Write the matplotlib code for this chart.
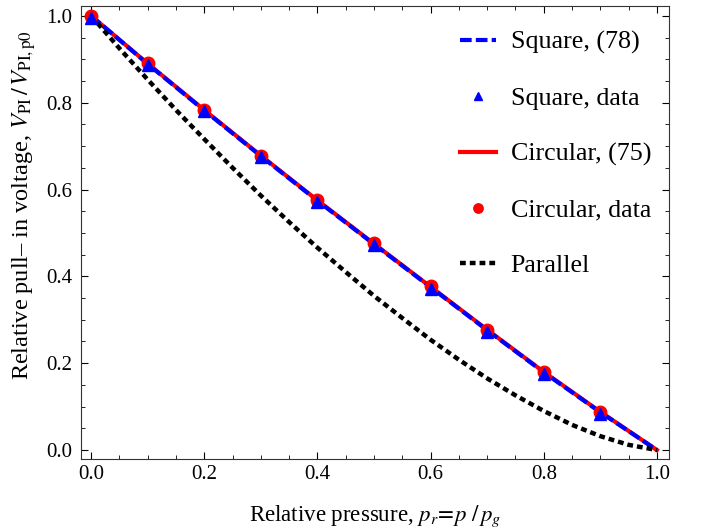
import matplotlib
matplotlib.use("Agg")
import matplotlib.pyplot as plt
from matplotlib.ticker import MultipleLocator, FormatStrFormatter

plt.rcParams['font.family'] = ['Liberation Serif', 'DejaVu Serif']
plt.rcParams['mathtext.fontset'] = 'stix'

# relative pressure for the model curves
p_curve = [0.0, 0.1, 0.2, 0.3, 0.4, 0.5, 0.6, 0.7, 0.8, 0.9, 1.0]
circular_model = [1.0, 0.890, 0.783, 0.678, 0.575, 0.475, 0.376, 0.277, 0.180, 0.088, 0.0]
square_model = [1.0, 0.889, 0.782, 0.677, 0.574, 0.474, 0.375, 0.276, 0.179, 0.087, 0.0]

# parallel plate curve, read every 0.05
p_par = [0.0, 0.05, 0.1, 0.15, 0.2, 0.25, 0.3, 0.35, 0.4, 0.45, 0.5,
         0.55, 0.6, 0.65, 0.7, 0.75, 0.8, 0.85, 0.9, 0.95, 1.0]
parallel = [1.0, 0.925, 0.853, 0.783, 0.716, 0.650, 0.586, 0.525, 0.466, 0.410, 0.355,
            0.304, 0.254, 0.208, 0.165, 0.126, 0.090, 0.058, 0.032, 0.012, 0.0]

# measured points
p_data = [0.0, 0.1, 0.2, 0.3, 0.4, 0.5, 0.6, 0.7, 0.8, 0.9]
circular_data = [1.0, 0.891, 0.784, 0.678, 0.575, 0.476, 0.377, 0.277, 0.180, 0.088]
square_data = [0.996, 0.886, 0.780, 0.675, 0.572, 0.472, 0.372, 0.273, 0.176, 0.084]

fig = plt.figure(figsize=(7.04, 5.29), dpi=100)
ax = fig.add_axes([0.115, 0.132, 0.835, 0.857])

ax.plot(p_curve, circular_model, color='#ff0000', lw=3, label='Circular, (75)', zorder=2)
ax.plot(p_curve, square_model, color='#0000ff', lw=3, dashes=(2.8, 1.0),
        label='Square, (78)', zorder=3)
ax.plot(p_par, parallel, color='black', lw=3.2, dashes=(1.3, 0.9), dash_capstyle='butt',
        label='Parallel', zorder=3)
ax.plot(p_data, circular_data, 'o', color='#ff0000', ms=9, label='Circular, data', zorder=4)
ax.plot(p_data, square_data, '^', color='#0000ff', ms=8.5, label='Square, data', zorder=5)

ax.set_xlim(-0.018, 1.021)
ax.set_ylim(-0.021, 1.023)
ax.xaxis.set_major_locator(MultipleLocator(0.2))
ax.xaxis.set_minor_locator(MultipleLocator(0.05))
ax.yaxis.set_major_locator(MultipleLocator(0.2))
ax.yaxis.set_minor_locator(MultipleLocator(0.05))
ax.xaxis.set_major_formatter(FormatStrFormatter('%.1f'))
ax.yaxis.set_major_formatter(FormatStrFormatter('%.1f'))
ax.tick_params(which='both', direction='in', top=True, right=True, labelsize=15)
ax.tick_params(axis='x', pad=4)
ax.tick_params(axis='y', pad=6)
ax.tick_params(which='major', length=5, width=0.8)
ax.tick_params(which='minor', length=3, width=0.6)
for s in ax.spines.values():
    s.set_color('0.2')

ax.set_xlabel(r'Relative pressure, $p_r\!=\!p\ /\,p_g$', fontsize=16.5)
ax.set_ylabel(r'Relative pull– in voltage, $V_{\mathrm{PI}}\,/\,V_{\mathrm{PI,p0}}$',
              fontsize=17.5)
ax.xaxis.set_label_coords(0.5, -0.097)
ax.yaxis.set_label_coords(-0.073, 0.561)

handles, labels = ax.get_legend_handles_labels()
order = ['Square, (78)', 'Square, data', 'Circular, (75)', 'Circular, data', 'Parallel']
hmap = dict(zip(labels, handles))
ax.legend([hmap[k] for k in order], order, loc='upper left', bbox_to_anchor=(0.645, 0.945),
          frameon=False, fontsize=18.7, handlelength=1.4, handletextpad=0.55,
          labelspacing=1.25, borderpad=0, borderaxespad=0, markerscale=0.75)

fig.savefig('out.png', dpi=100)
